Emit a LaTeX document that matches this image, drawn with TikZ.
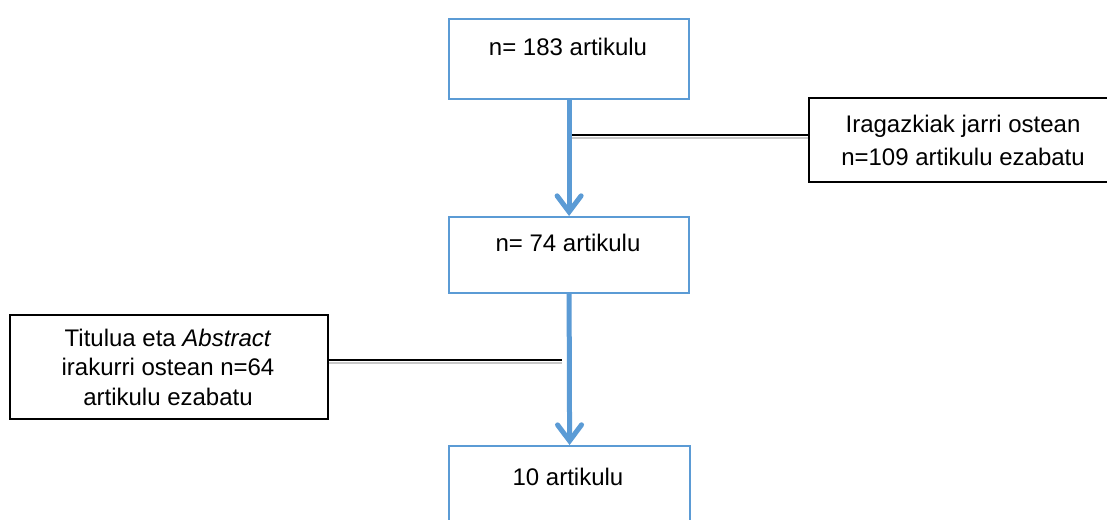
\documentclass[tikz,border=0pt]{standalone}
\usepackage{fontspec}
\setmainfont{Liberation Sans}
\usetikzlibrary{arrows.meta}
\definecolor{wblue}{HTML}{5B9BD5}
\definecolor{shade}{HTML}{C8C8C8}
\tikzset{
  bluebox/.style={draw=wblue, line width=2.2pt, rectangle, inner sep=0pt, anchor=north west},
  blackbox/.style={draw=black, line width=2pt, rectangle, inner sep=0pt, anchor=north west},
  txt/.style={inner sep=0pt, font=\fontsize{24}{30}\selectfont},
  flow/.style={draw=wblue, line width=5pt, -{Straight Barb[length=16pt,width=24pt,line cap=round]}},
  link/.style={draw=black, line width=2.4pt},
  linkshade/.style={draw=shade, line width=2.5pt}
}
\begin{document}
\begin{tikzpicture}[x=1pt,y=-1pt]
\clip (0,0) rectangle (1107,519);
\fill[white] (0,0) rectangle (1107,519);
% main boxes
\node[bluebox, minimum width=240pt, minimum height=80pt] (b1) at (448,18) {};
\node[txt, anchor=base] (t1) at (568,56) {n= 183 artikulu};
\node[bluebox, minimum width=240pt, minimum height=76pt] (b2) at (448,216) {};
\node[txt, anchor=base] (t2) at (568,251) {n= 74 artikulu};
\node[bluebox, minimum width=241pt, minimum height=100pt] (b3) at (448,445) {};
\node[txt, anchor=base] (t3) at (568,485) {10 artikulu};
% side boxes
\node[blackbox, minimum width=310pt, minimum height=84pt] (r) at (808,97) {};
\node[txt, align=center, font=\fontsize{24}{33}\selectfont] (rt) at (963,140) {Iragazkiak jarri ostean\\n=109 artikulu ezabatu};
\node[blackbox, minimum width=318pt, minimum height=104pt] (l) at (9,314) {};
\node[txt, align=center, font=\fontsize{24}{29.5}\selectfont] (lt) at (168,367) {Titulua eta \textit{Abstract}\\irakurri ostean n=64\\artikulu ezabatu};
% junction points on the arrows
\coordinate (j1) at (570,135);
\coordinate (j2) at (562,360);
% side connectors
\draw[linkshade] ([yshift=-3pt]j1) -- ([yshift=-3pt]j1 -| r.west);
\draw[link] (j1) -- (j1 -| r.west);
\draw[linkshade] ([yshift=-3pt]j2 -| l.east) -- ([yshift=-3pt]j2);
\draw[link] (j2 -| l.east) -- (j2);
% flow arrows
\draw[flow] (b1.south) -- (b2.north);
\draw[flow] (b2.south) -- (b3.north);
\end{tikzpicture}
\end{document}
